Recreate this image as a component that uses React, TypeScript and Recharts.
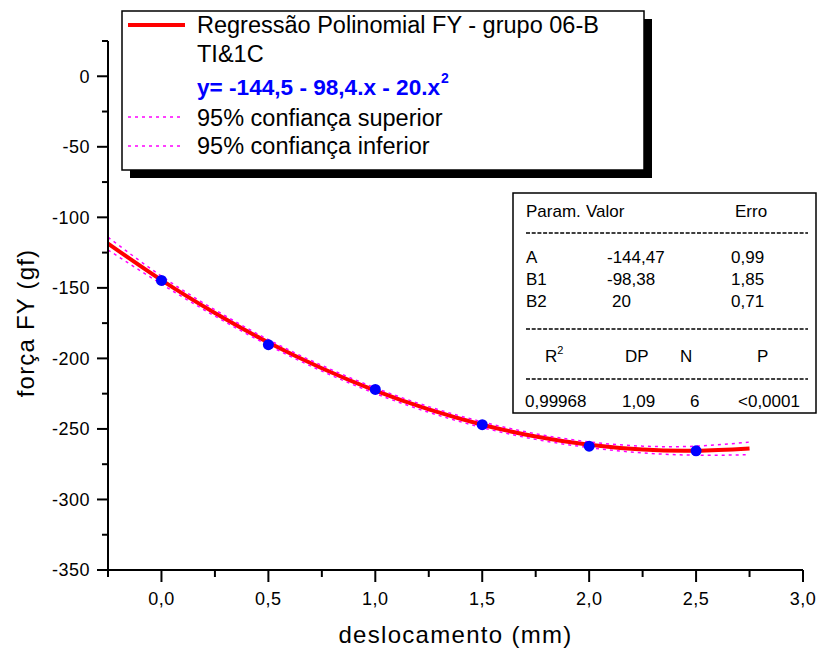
import React from 'react';
import { ComposedChart, Line, Scatter, XAxis, YAxis } from 'recharts';

const FONT = '"Liberation Sans", Arial, Helvetica, sans-serif';

// Fitted polynomial curve and 95% confidence bands
const fitX = [-0.25, 0, 0.25, 0.5, 0.75, 1.0, 1.25, 1.5, 1.75, 2.0, 2.25, 2.5, 2.75];
const fitY = [-118.6, -144.5, -167.8, -188.7, -207.0, -222.9, -236.2, -247.0, -255.4, -261.2, -264.6, -265.4, -263.8];
const upperY = [-114.1, -141.7, -165.6, -186.7, -205.0, -220.9, -234.2, -245.0, -253.4, -259.2, -262.2, -262.2, -259.3];
const lowerY = [-123.1, -147.3, -170.0, -190.7, -209.0, -224.9, -238.2, -249.0, -257.4, -263.2, -267.0, -268.6, -268.3];

// Measured points
const pointX = [0, 0.5, 1.0, 1.5, 2.0, 2.5];
const pointY = [-144.7, -190.3, -222, -247, -262.2, -265.5];

// Axis ticks
const xTicks = [-0.25, 0, 0.25, 0.5, 0.75, 1.0, 1.25, 1.5, 1.75, 2.0, 2.25, 2.5, 2.75, 3.0];
const yTicks = [-350, -325, -300, -275, -250, -225, -200, -175, -150, -125, -100, -75, -50, -25, 0, 25];

const xLabel = 'deslocamento (mm)';
const yLabel = 'força FY (gf)';

const legendFit = 'Regressão Polinomial FY - grupo 06-B';
const legendSub = 'TI&1C';
const legendEq = 'y= -144,5 - 98,4.x - 20.x';
const legendUpper = '95% confiança superior';
const legendLower = '95% confiança inferior';

const paramNames = ['A', 'B1', 'B2'];
const paramValues = ['-144,47', '-98,38', '20'];
const paramErrors = ['0,99', '1,85', '0,71'];
const statValues = ['0,99968', '1,09', '6', '<0,0001'];

const fitRows = fitX.map((x, i) => ({ x, fit: fitY[i], upper: upperY[i], lower: lowerY[i] }));
const pointRows = pointX.map((x, i) => ({ x, y: pointY[i] }));

const fmt = (v: number) => v.toFixed(1).replace('.', ',');

const XTick = (props: any) => {
  const { x, y, payload } = props;
  const v = payload.value as number;
  const major = v >= 0 && Math.abs(v * 2 - Math.round(v * 2)) < 1e-6;
  return (
    <g>
      <line x1={x} x2={x} y1={y} y2={y + (major ? 12 : 7)} stroke="#000" strokeWidth={2} />
      {major && (
        <text x={x} y={y + 35} textAnchor="middle" fontFamily={FONT} fontSize={18} letterSpacing={0.5} fill="#000">
          {fmt(v)}
        </text>
      )}
    </g>
  );
};

const YTick = (props: any) => {
  const { x, y, payload } = props;
  const v = payload.value as number;
  const major = v % 50 === 0;
  return (
    <g>
      <line x1={x - (major ? 11 : 6)} x2={x} y1={y} y2={y} stroke="#000" strokeWidth={2} />
      {major && (
        <text x={x - 18} y={y} dy="0.35em" textAnchor="end" fontFamily={FONT} fontSize={18} letterSpacing={0.5} fill="#000">
          {String(v)}
        </text>
      )}
    </g>
  );
};

const Dot = (props: any) => {
  const { cx, cy } = props;
  return <circle cx={cx} cy={cy} r={5.5} fill="#0000ff" />;
};

const Overlay = () => {
  const t = { fontFamily: FONT, fill: '#000' } as const;
  const legX = 122, legY = 11, legW = 522, legH = 159;
  const tx = 526;
  return (
    <svg width={820} height={653} style={{ position: 'absolute', left: 0, top: 0, pointerEvents: 'none' }}>
      {/* legend */}
      <rect x={legX + 8} y={legY + 8} width={legW} height={legH} fill="#000" />
      <rect x={legX} y={legY} width={legW} height={legH} fill="#fff" stroke="#000" strokeWidth={1.5} />
      <line x1={128} x2={185} y1={25} y2={25} stroke="#ff0000" strokeWidth={4} />
      <text x={197} y={33} fontSize={23.5} {...t}>{legendFit}</text>
      <text x={197} y={62} fontSize={23.5} {...t}>{legendSub}</text>
      <text x={197} y={95} fontSize={22.6} fontWeight="bold" fontFamily={FONT} fill="#0000ff">
        {legendEq}
        <tspan fontSize={14} dy={-12} dx={1}>2</tspan>
      </text>
      <line x1={128} x2={182} y1={117} y2={117} stroke="#ff00ff" strokeWidth={1.5} strokeDasharray="3 4" />
      <text x={197} y={126} fontSize={23.5} {...t}>{legendUpper}</text>
      <line x1={128} x2={182} y1={146} y2={146} stroke="#ff00ff" strokeWidth={1.5} strokeDasharray="3 4" />
      <text x={197} y={154} fontSize={23.5} {...t}>{legendLower}</text>

      {/* statistics table */}
      <rect x={513} y={193} width={303} height={220} fill="#fff" stroke="#000" strokeWidth={1.5} />
      <g fontSize={17} {...t}>
        <text x={tx} y={217}>Param.</text>
        <text x={586} y={217}>Valor</text>
        <text x={735} y={217}>Erro</text>
        {paramNames.map((p, i) => (
          <g key={p}>
            <text x={tx} y={263 + i * 22}>{p}</text>
            <text x={i === 2 ? 612 : 607} y={263 + i * 22}>{paramValues[i]}</text>
            <text x={731} y={263 + i * 22}>{paramErrors[i]}</text>
          </g>
        ))}
        <text x={545} y={362}>R<tspan fontSize={11} dy={-8}>2</tspan></text>
        <text x={625} y={362}>DP</text>
        <text x={680} y={362}>N</text>
        <text x={757} y={362}>P</text>
        <text x={525} y={407}>{statValues[0]}</text>
        <text x={622} y={407}>{statValues[1]}</text>
        <text x={690} y={407}>{statValues[2]}</text>
        <text x={738} y={407}>{statValues[3]}</text>
      </g>
      {[233, 329, 379].map((yy) => (
        <line key={yy} x1={526} x2={808} y1={yy} y2={yy} stroke="#000" strokeWidth={1.3} strokeDasharray="4 1.7" />
      ))}
    </svg>
  );
};

export default function App() {
  return (
    <div style={{ position: 'absolute', left: 0, top: 0, width: 820, height: 653, background: '#fff' }}>
      <ComposedChart width={820} height={653} data={fitRows} margin={{ top: 41, right: 17, bottom: 0, left: 0 }}>
        <XAxis
          dataKey="x"
          type="number"
          domain={[-0.25, 3.0]}
          ticks={xTicks}
          interval={0}
          height={83}
          tickSize={0}
          tickMargin={0}
          tickLine={false}
          axisLine={{ stroke: '#000', strokeWidth: 2 }}
          tick={<XTick />}
          allowDataOverflow
          label={{
            content: (p: any) => {
              const vb = p.viewBox;
              return (
                <text x={vb.x + vb.width / 2} y={643} textAnchor="middle" fontFamily={FONT} fontSize={24} letterSpacing={1.3} fill="#000">
                  {xLabel}
                </text>
              );
            },
          }}
        />
        <YAxis
          type="number"
          domain={[-350, 25]}
          ticks={yTicks}
          interval={0}
          width={108}
          tickSize={0}
          tickMargin={0}
          tickLine={false}
          axisLine={{ stroke: '#000', strokeWidth: 2 }}
          tick={<YTick />}
          allowDataOverflow
          label={{
            content: () => (
              <text x={34} y={323} transform="rotate(-90 34 323)" textAnchor="middle" fontFamily={FONT} fontSize={24} letterSpacing={1.2} fill="#000">
                {yLabel}
              </text>
            ),
          }}
        />
        <Scatter data={pointRows} dataKey="y" shape={<Dot />} isAnimationActive={false} />
        <Line dataKey="fit" type="natural" stroke="#ff0000" strokeWidth={4} dot={false} isAnimationActive={false} />
        <Line dataKey="upper" type="natural" stroke="#ff00ff" strokeWidth={1.5} strokeDasharray="3 4" dot={false} isAnimationActive={false} />
        <Line dataKey="lower" type="natural" stroke="#ff00ff" strokeWidth={1.5} strokeDasharray="3 4" dot={false} isAnimationActive={false} />
      </ComposedChart>
      <Overlay />
    </div>
  );
}
